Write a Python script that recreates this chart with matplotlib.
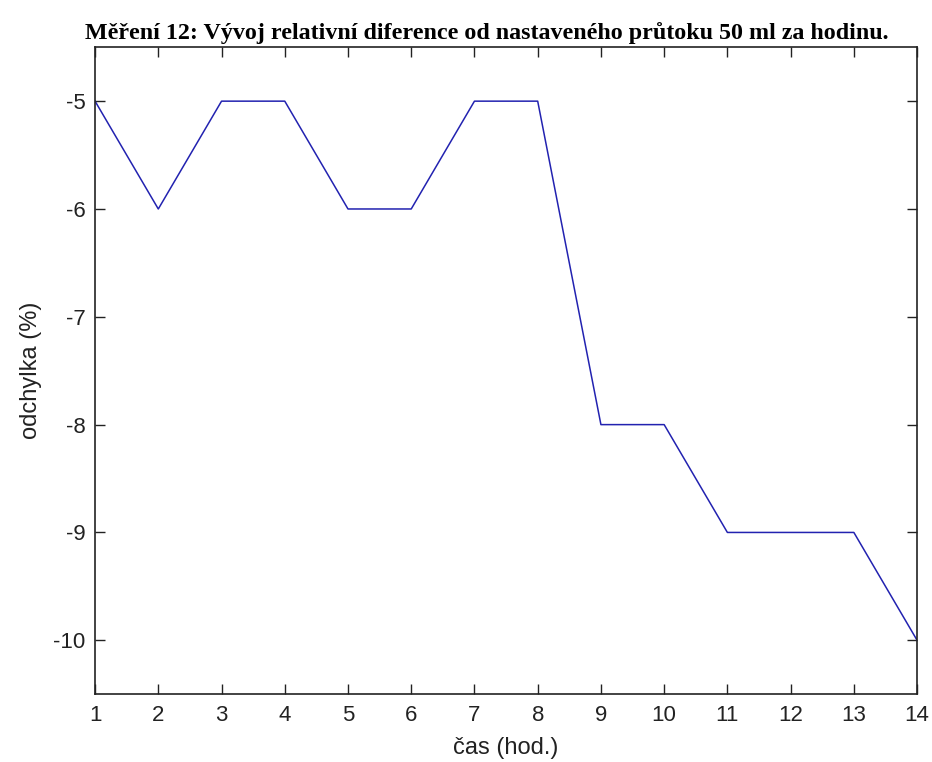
import matplotlib
matplotlib.use("Agg")
import matplotlib.pyplot as plt

plt.rcParams["axes.unicode_minus"] = False
plt.rcParams["font.family"] = ["Liberation Sans", "DejaVu Sans"]

# measured values, one per hour
hours = list(range(1, 15))
deviation = [-5, -6, -5, -5, -6, -6, -5, -5, -8, -8, -9, -9, -9, -10]
y_ticks = [-10, -9, -8, -7, -6, -5]

fig = plt.figure(figsize=(9.32, 7.62), dpi=100)
ax = fig.add_axes([0.102, 0.089, 0.882, 0.849])

ax.plot(hours, deviation, color="#2222b0", linewidth=1.1)

ax.set_xlim(1, 14)
ax.set_ylim(-10.5, -4.5)
ax.set_xticks(hours)
ax.set_yticks(y_ticks)

ax.tick_params(direction="in", length=7, width=1, top=True, right=True,
               labelsize=16, pad=8, colors="#222222")
ax.tick_params(axis="y", pad=7)
for s in ax.spines.values():
    s.set_linewidth(1.2)
    s.set_color("#222222")

ax.set_xlabel("čas (hod.)", fontsize=17, labelpad=8, color="#222222")
ax.set_ylabel("odchylka (%)", fontsize=17, labelpad=8, color="#222222")
ax.set_title("Měření 12: Vývoj relativní diference od nastaveného průtoku 50 ml za hodinu.",
             fontsize=17.3, fontweight="bold", family="Liberation Serif", pad=6, x=0.476)

fig.savefig("out.png", dpi=100)
